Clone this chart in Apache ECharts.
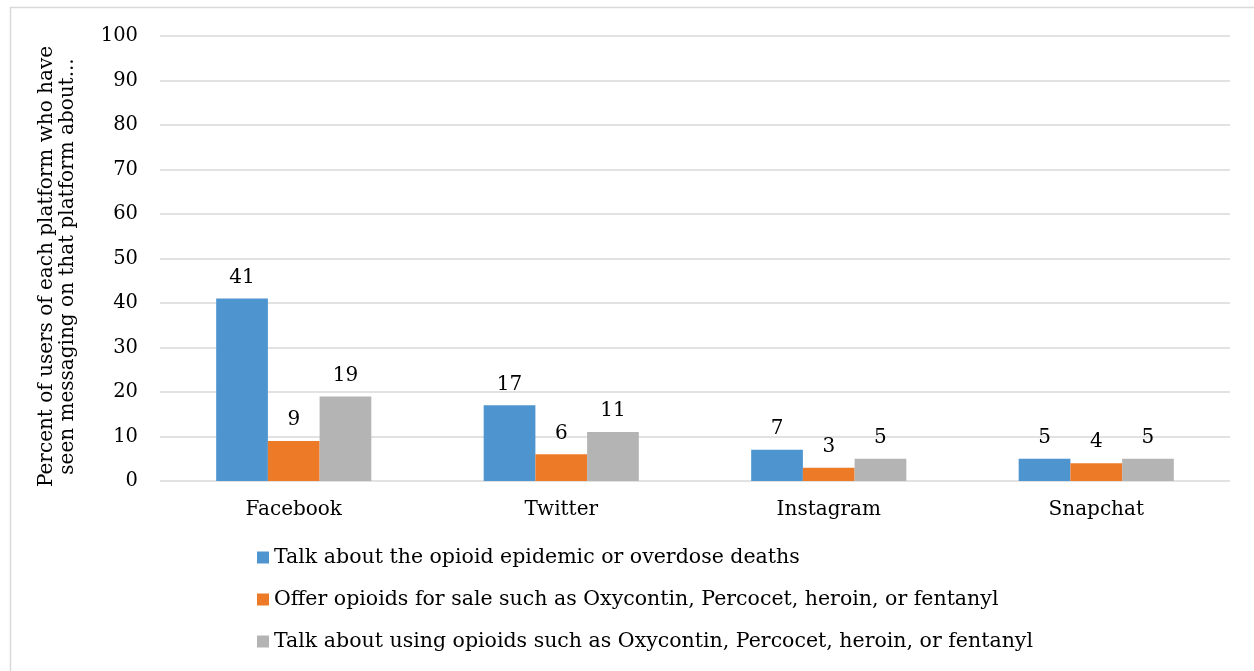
<!DOCTYPE html>
<html lang="en">
<head>
<meta charset="UTF-8">
<title>opioid messaging</title>
<script src="https://cdn.jsdelivr.net/npm/echarts@6/dist/echarts.min.js"></script>
<style>
  html, body { margin: 0; padding: 0; background: #fff; }
  #main { width: 1254px; height: 671px; }
</style>
</head>
<body>
<div id="main"></div>
<script type="text/javascript">
// platforms along the x axis
var platforms = ['Facebook', 'Twitter', 'Instagram', 'Snapchat'];
// series names (legend)
var seriesNames = [
  'Talk about the opioid epidemic or overdose deaths',
  'Offer opioids for sale such as Oxycontin, Percocet, heroin, or fentanyl',
  'Talk about using opioids such as Oxycontin, Percocet, heroin, or fentanyl'
];
// percent values per platform
var talkEpidemic = [41, 17, 7, 5];
var offerSale = [9, 6, 3, 4];
var talkUsing = [19, 11, 5, 5];
var yTicks = [0, 10, 20, 30, 40, 50, 60, 70, 80, 90, 100];

var colors = ['#4e95d0', '#ed7a26', '#b4b4b4'];
var font = 'DejaVu Serif';

var myChart = echarts.init(document.getElementById('main'));

function barSeries(name, data, color) {
  return {
    name: name,
    type: 'bar',
    data: data,
    barGap: 0,
    barCategoryGap: '42%',
    itemStyle: { color: color },
    label: {
      show: true,
      position: 'top',
      distance: 11,
      color: '#000',
      fontFamily: font,
      fontSize: 20
    }
  };
}

var option = {
  animation: false,
  color: colors,
  graphic: [{
    type: 'rect',
    shape: { x: 10.5, y: 7.5, width: 1300, height: 700 },
    style: { fill: 'none', stroke: '#d9d9d9', lineWidth: 1.5 },
    silent: true
  }],
  grid: { left: 160, right: 24, top: 36, bottom: 190 },
  legend: {
    orient: 'vertical',
    left: 252,
    top: 542,
    itemWidth: 12,
    itemHeight: 12,
    itemGap: 21,
    icon: 'rect',
    textStyle: { color: '#000', fontFamily: font, fontSize: 20.5 },
    data: seriesNames
  },
  xAxis: {
    type: 'category',
    data: platforms,
    axisLine: { show: false },
    axisTick: { show: false },
    axisLabel: { color: '#000', fontFamily: font, fontSize: 20, margin: 19 }
  },
  yAxis: {
    type: 'value',
    min: yTicks[0],
    max: yTicks[yTicks.length - 1],
    interval: 10,
    name: 'Percent of users of each platform who have\nseen messaging on that platform about...',
    nameLocation: 'middle',
    nameGap: 82,
    nameTextStyle: { color: '#000', fontFamily: font, fontSize: 20, lineHeight: 21, padding: [0, 16, 0, 0] },
    axisLabel: { color: '#000', fontFamily: font, fontSize: 19.5, margin: 22 },
    splitLine: { lineStyle: { color: '#d9d9d9', width: 1.5 } }
  },
  series: [
    barSeries(seriesNames[0], talkEpidemic, colors[0]),
    barSeries(seriesNames[1], offerSale, colors[1]),
    barSeries(seriesNames[2], talkUsing, colors[2])
  ]
};

myChart.setOption(option);
</script>
</body>
</html>
